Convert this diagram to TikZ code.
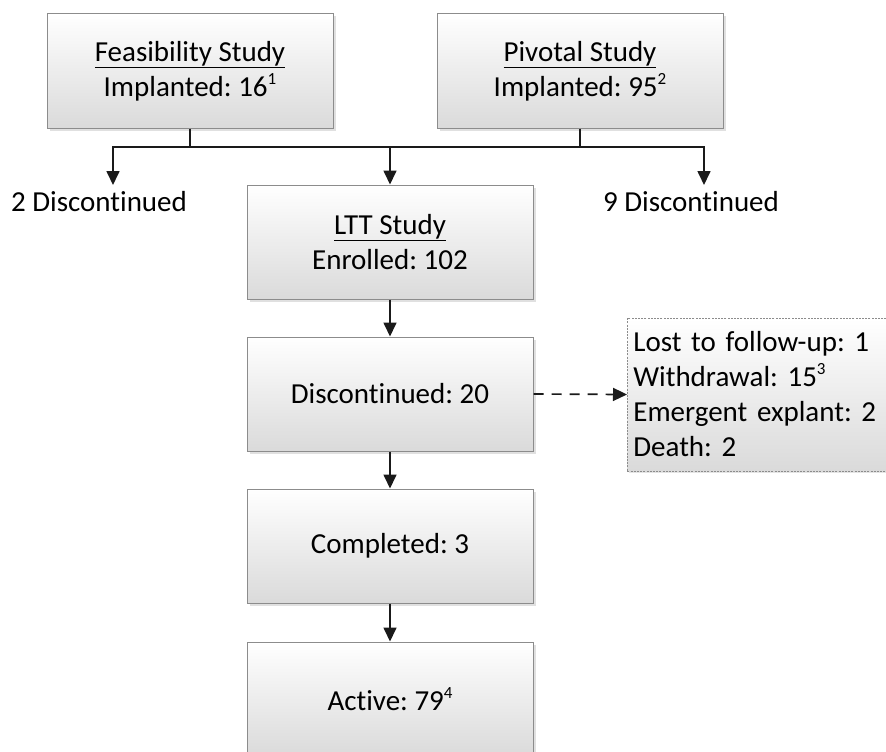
\documentclass[tikz,border=0pt]{standalone}
\usepackage{fontspec}
\setmainfont{Carlito}[Ligatures={NoCommon}]
\usetikzlibrary{arrows.meta,shadows}
\definecolor{boxgray}{HTML}{8C8C8C}
\definecolor{boxbot}{HTML}{DADADA}
\definecolor{linecol}{HTML}{1A1A1A}
\newcommand\supnum[1]{\raisebox{0.42em}{\fontsize{17}{17}\selectfont #1}}
\frenchspacing
\begin{document}
\frenchspacing
\begin{tikzpicture}[x=1pt,y=-1pt,
  stage/.style={draw=boxgray, line width=1pt, top color=white, bottom color=boxbot,
    minimum width=286pt, minimum height=114pt, align=center, inner sep=0pt,
    font=\fontsize{29}{35}\selectfont,
    drop shadow={shadow xshift=2.5pt,shadow yshift=-2.5pt,opacity=0.35,fill=black!35}},
  reason/.style={draw=boxgray, line width=0.7pt, dash pattern=on 2pt off 1.2pt,
    top color=white, bottom color=boxbot, minimum height=153pt, text width=265pt,
    inner xsep=6pt, align=left, font=\fontsize{29}{35}\selectfont,
    drop shadow={shadow xshift=2pt,shadow yshift=-2pt,opacity=0.3,fill=black!35}},
  lbl/.style={font=\fontsize{29}{35}\selectfont, inner sep=0pt, anchor=base},
  conn/.style={draw=linecol, line width=1.7pt},
  arr/.style={conn, -{Triangle[length=14pt,width=13pt]}},
  darr/.style={arr, dash pattern=on 10pt off 8pt}
]
\useasboundingbox (0,0) rectangle (886,752);
\clip (0,0) rectangle (886,752);

\node[stage] (feas) at (190,71) {\underline{Feasibility Study}\\Implanted: 16\supnum{1}};
\node[stage] (piv) at (580,71) {\underline{Pivotal Study}\\Implanted: 95\supnum{2}};
\node[stage] (ltt) at (390,242) {\underline{LTT Study}\\Enrolled: 102};
\node[stage] (disc) at (390,394) {Discontinued: 20};
\node[stage] (comp) at (390,546) {Completed: 3};
\node[stage] (act) at (390,699) {Active: 79\supnum{4}};
\node[reason, anchor=west] (why) at (627,394.5)
  {Lost to follow-up: 1\\Withdrawal: 15\supnum{3}\\Emergent explant: 2\\Death: 2};

\node[lbl] (d2) at (99,211) {2 Discontinued};
\node[lbl] (d9) at (691,211) {9 Discontinued};

\coordinate (j) at (390,147);
\coordinate (dl) at (113,185);
\coordinate (dr) at (704,185);

\draw[conn] (feas.south) -- (feas.south |- j);
\draw[conn] (piv.south) -- (piv.south |- j);
\draw[arr] (j) -| (dl);
\draw[arr] (j) -| (dr);
\draw[arr] (j) -- (ltt.north);
\draw[arr] (ltt) -- (disc);
\draw[arr] (disc) -- (comp);
\draw[arr] (comp) -- (act);
\draw[darr] (disc.east) -- (why.west);
\end{tikzpicture}
\end{document}
